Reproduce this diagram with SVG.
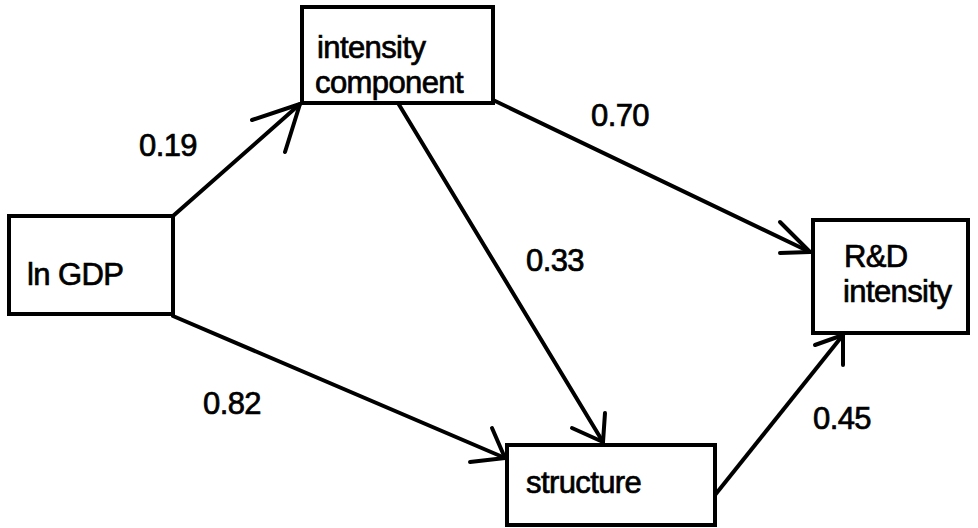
<svg xmlns="http://www.w3.org/2000/svg" width="978" height="528" viewBox="0 0 978 528">
<style>
.box{fill:#fff;stroke:#000;stroke-width:4;stroke-linejoin:miter}
.ln{fill:none;stroke:#000;stroke-width:4;stroke-linecap:round;stroke-linejoin:round}
.t{font-family:"Liberation Sans",Arial,Helvetica,sans-serif;font-size:31px;letter-spacing:-0.6px;fill:#000;stroke:#000;stroke-width:0.7}
</style>
<rect width="978" height="528" fill="#fff"/>
<g id="connectors">
<g id="e-gdp-int"><polyline class="ln" points="173,216 300,104"/><polyline class="ln" points="252,120 300,104 285,152"/></g>
<g id="e-int-rd"><polyline class="ln" points="493,100 810,252"/><polyline class="ln" points="780,222 810,252 780,253"/></g>
<g id="e-int-str"><polyline class="ln" points="398,103 603,442"/><polyline class="ln" points="572,428 603,442 605,413"/></g>
<g id="e-gdp-str"><polyline class="ln" points="173,316 505,458"/><polyline class="ln" points="492,428 505,458 470,462"/></g>
<g id="e-str-rd"><polyline class="ln" points="715,495 843,335"/><polyline class="ln" points="815,345 843,335 843,365"/></g>
<text class="t" x="139" y="156">0.19</text>
<text class="t" x="591" y="126">0.70</text>
<text class="t" x="526" y="271">0.33</text>
<text class="t" x="203" y="414">0.82</text>
<text class="t" x="813" y="429">0.45</text>
</g>
<g id="n-gdp"><rect class="box" x="9" y="216" width="164" height="98"/><text class="t" x="27" y="285">ln GDP</text></g>
<g id="n-int"><rect class="box" x="302" y="7" width="191" height="96"/><text class="t"><tspan x="317" y="58">intensity</tspan><tspan x="315" y="93">component</tspan></text></g>
<g id="n-rd"><rect class="box" x="813" y="220" width="155" height="113"/><text class="t"><tspan x="844" y="267">R&amp;D</tspan><tspan x="843" y="302">intensity</tspan></text></g>
<g id="n-str"><rect class="box" x="507" y="445" width="208" height="80"/><text class="t" x="526" y="493">structure</text></g>
</svg>
